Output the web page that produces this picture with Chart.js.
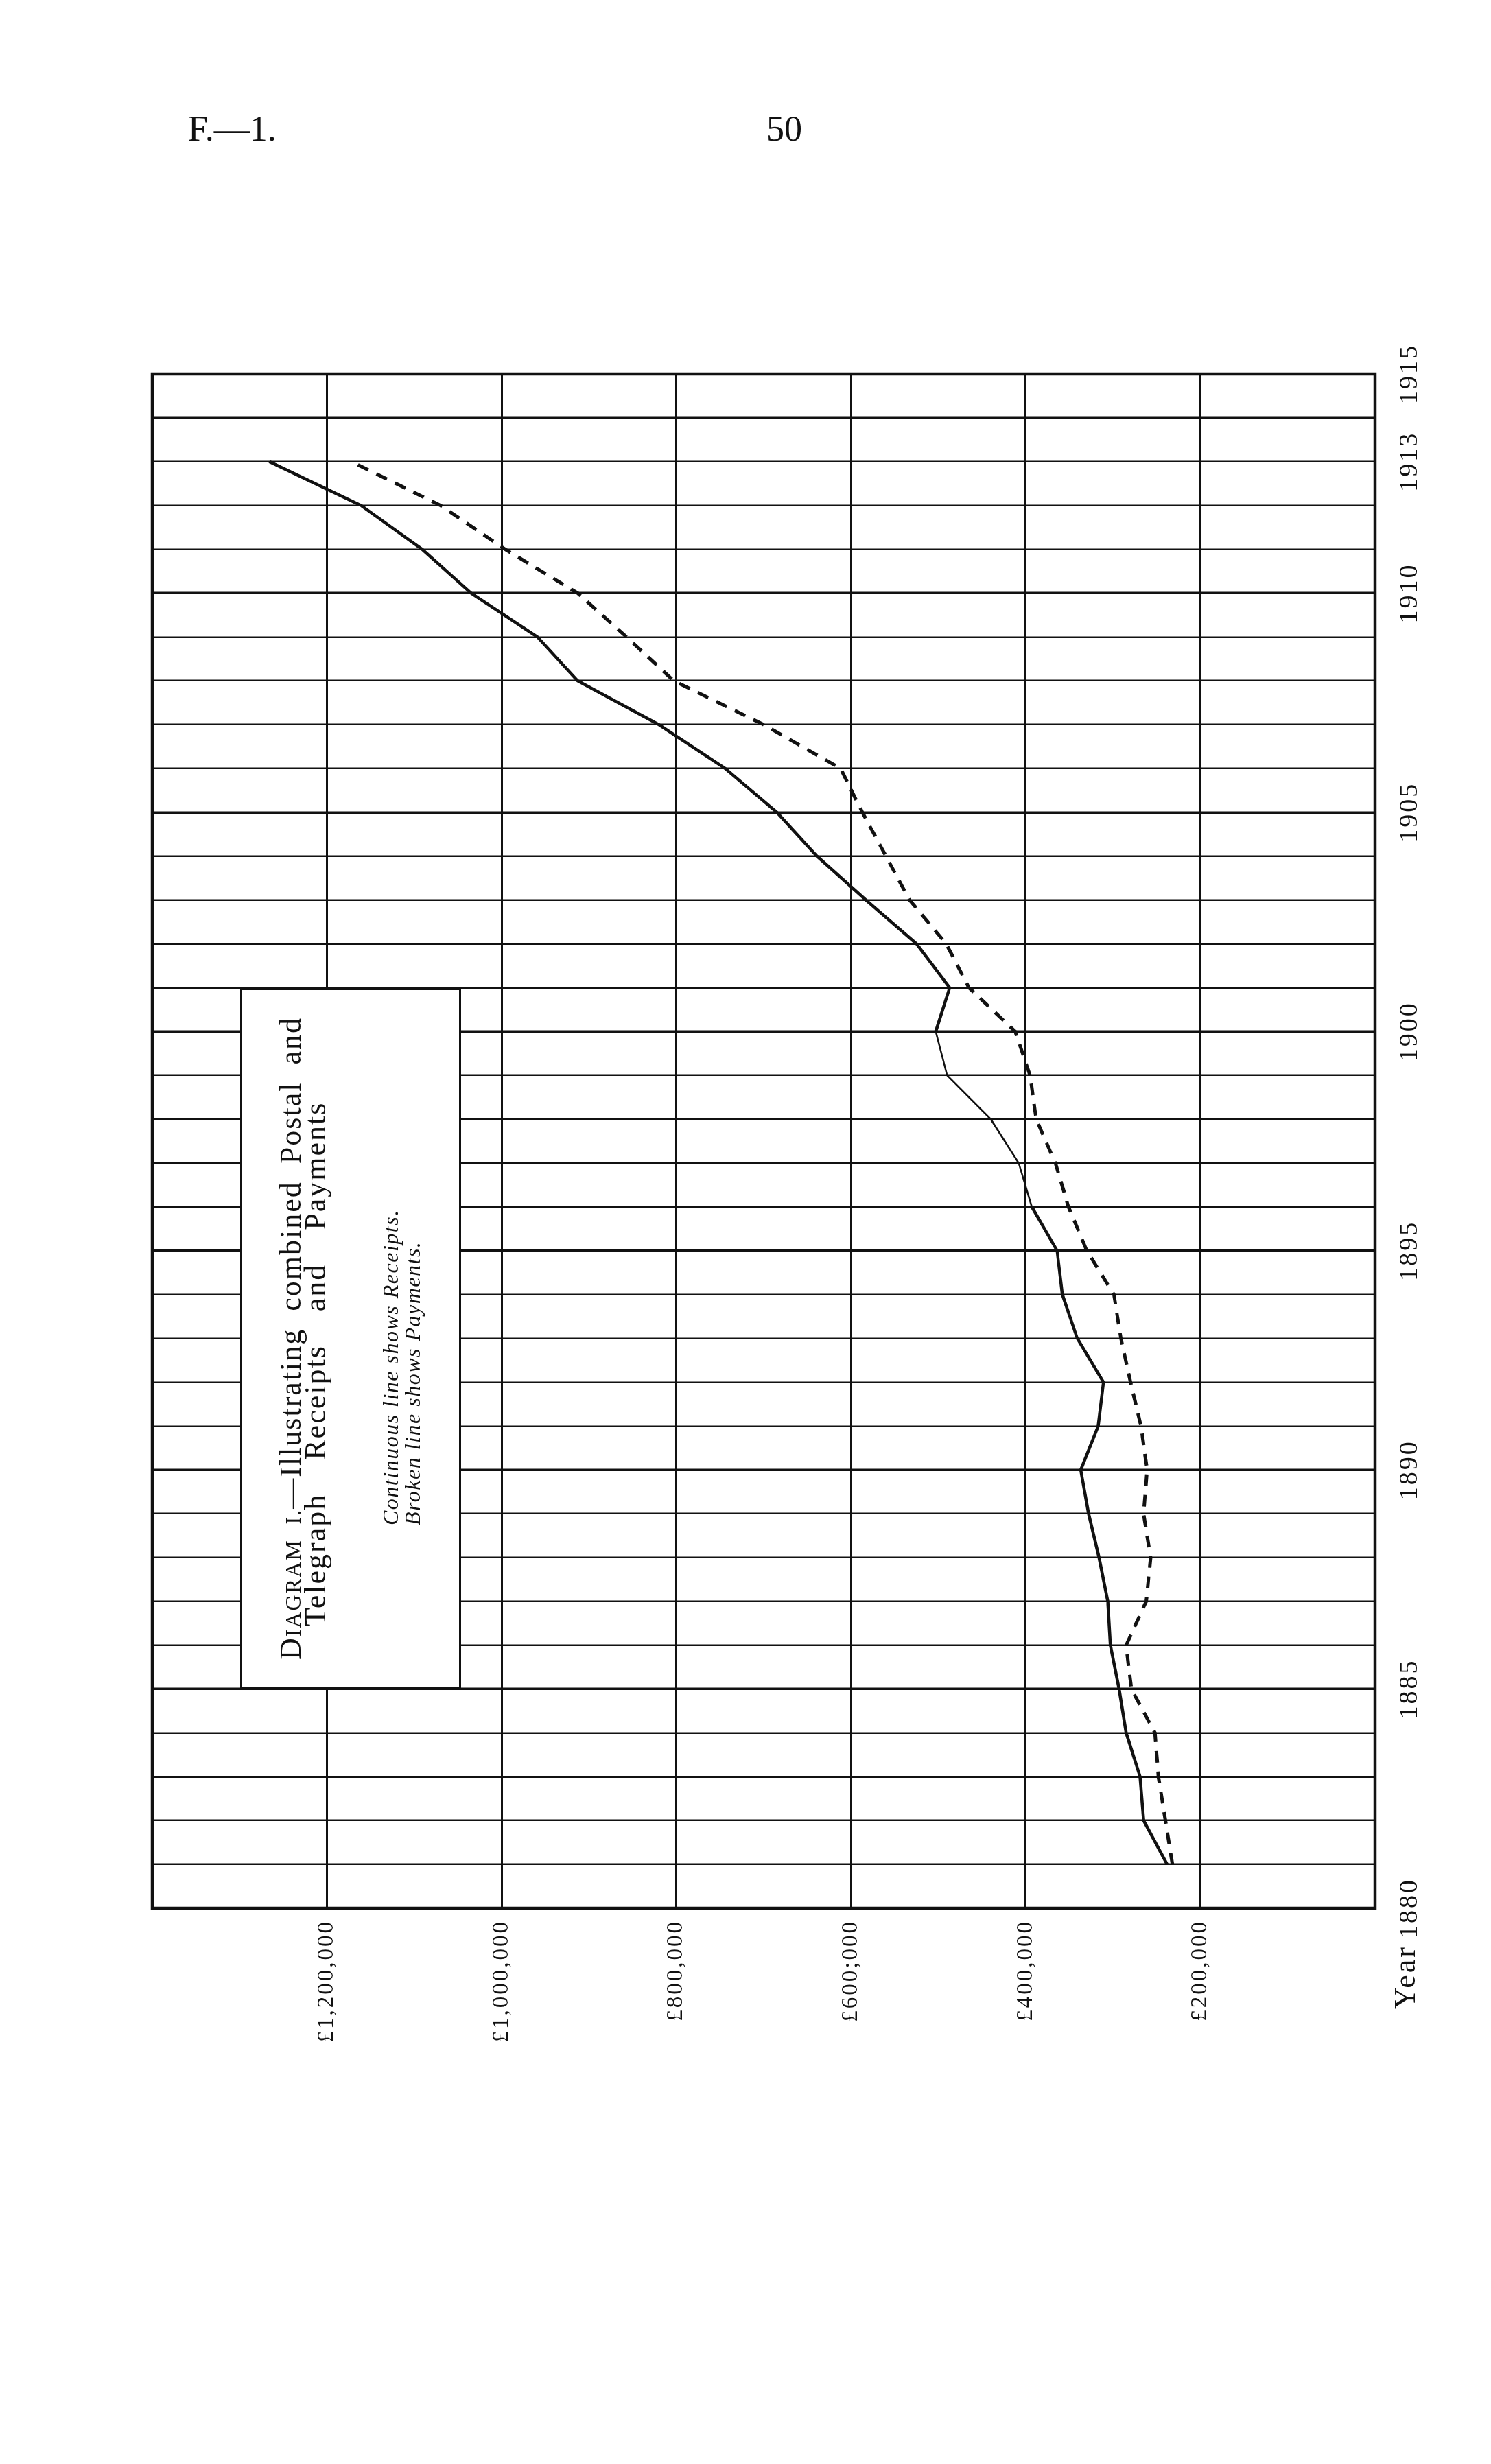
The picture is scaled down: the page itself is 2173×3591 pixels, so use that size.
<!DOCTYPE html>
<html>
<head>
<meta charset="utf-8">
<script src="https://cdn.jsdelivr.net/npm/chart.js@4.4.0/dist/chart.umd.min.js"></script>
<style>
html, body { margin: 0; padding: 0; background: #fff; }
#page { position: relative; width: 2173px; height: 3591px; background: #fff; overflow: hidden;
        font-family: "Liberation Serif", "DejaVu Serif", serif; color: #111; }
.hdr { position: absolute; top: 162px; font-size: 52px; line-height: 52px; }
/* chart drawn the normal way, then turned a quarter left like the printed page */
#rot { position: absolute; left: 200px; top: 3050px; width: 2550px; height: 1920px;
       transform-origin: 0 0; transform: rotate(-90deg); }
#rot canvas { position: absolute; left: 0; top: 0; }
#box { position: absolute; left: 589px; top: 150px; width: 1021px; height: 322px;
       box-sizing: border-box; border: 3px solid #111; background: #fff; }
#box div { position: absolute; white-space: nowrap; }
.t1, .t2 { font-size: 44px; line-height: 44px; letter-spacing: 2px; }
.t1 { left: 0; right: 0; text-align: center; top: 49px; word-spacing: 12px; }
.t2 { left: 88px; top: 85px; word-spacing: 36px; }
.sm { font-size: 32px; }
.it { left: 235px; font-style: italic; font-size: 32px; line-height: 32px; letter-spacing: 1.5px; }
.i1 { top: 200px; }
.i2 { top: 232px; }
</style>
</head>
<body>
<div id="page">
  <div class="hdr" style="left:274px">F.—1.</div>
  <div class="hdr" style="left:1117px">50</div>
  <div id="rot">
    <canvas id="chart" width="2550" height="1920"></canvas>
    <div id="box">
      <div class="t1">D<span class="sm">IAGRAM I.</span>—Illustrating combined Postal and</div>
      <div class="t2">Telegraph Receipts and Payments</div>
      <div class="it i1">Continuous line shows Receipts.</div>
      <div class="it i2">Broken line shows Payments.</div>
    </div>
  </div>
</div>
<script>
const years = [1881, 1882, 1883, 1884, 1885, 1886, 1887, 1888, 1889, 1890,
               1891, 1892, 1893, 1894, 1895, 1896, 1897, 1898, 1899, 1900,
               1901, 1902, 1903, 1904, 1905, 1906, 1907, 1908, 1909, 1910,
               1911, 1912, 1913];
const receipts = [238000, 265000, 269000, 285000, 293000, 303000, 306000, 316000, 328000, 337000,
                  317000, 311000, 341000, 358000, 364000, 393000, 408000, 440000, 490000, 503000,
                  487000, 525000, 583000, 639000, 685000, 744000, 820000, 913000, 959000, 1035000,
                  1091000, 1161000, 1266000];
const payments = [232000, 240000, 248000, 252000, 279000, 285000, 262000, 257000, 265000, 261000,
                  268000, 280000, 291000, 299000, 330000, 351000, 366000, 388000, 395000, 412000,
                  465000, 491000, 533000, 560000, 587000, 612000, 700000, 803000, 857000, 913000,
                  996000, 1070000, 1172000];
const yearTicks = [1880, 1885, 1890, 1895, 1900, 1905, 1910, 1913, 1915];
const moneyTicks = [200000, 400000, 600000, 800000, 1000000, 1200000];
const moneyLabels = ['£200,000', '£400,000', '£600;000', '£800,000', '£1,000,000', '£1,200,000'];

const INK = '#111';
const FONT = '"Liberation Serif", "DejaVu Serif", serif';
const pad = { top: 22, right: 45, left: 0, bottom: 0 };
const want = { top: 22, right: 2505 };

// Cadre + mot "Year" devant 1880
const framePlugin = {
    id: 'frame',
    beforeDraw(chart) { chart.ctx.letterSpacing = '3px'; },
    afterDraw(chart) {
        const ctx = chart.ctx, a = chart.chartArea, x = chart.scales.x;
        ctx.save();
        ctx.strokeStyle = INK; ctx.lineWidth = 4.5;
        ctx.strokeRect(a.left, a.top, a.right - a.left, a.bottom - a.top);
        ctx.fillStyle = INK;
        ctx.font = '38px ' + FONT;
        ctx.letterSpacing = '3px';
        const w = ctx.measureText('1880').width;
        ctx.font = '44px ' + FONT;
        ctx.textAlign = 'right'; ctx.textBaseline = 'top';
        ctx.fillText('Year', x.getPixelForValue(1880) - w / 2 - 10, a.bottom + 24);
        ctx.restore();
    }
};

const chart = new Chart(document.getElementById('chart'), {
    type: 'line',
    data: {
        datasets: [
            { label: 'Receipts', data: years.map((y, i) => ({ x: y, y: receipts[i] })),
              borderColor: INK, borderWidth: 4.5, pointRadius: 0, tension: 0,
              segment: { borderWidth: c => (c.p0.parsed.x >= 1896 && c.p1.parsed.x <= 1900) ? 2.6 : 4.5 } },
            { label: 'Payments', data: years.map((y, i) => ({ x: y, y: payments[i] })),
              borderColor: INK, borderWidth: 5, borderDash: [17, 13], pointRadius: 0, tension: 0 }
        ]
    },
    options: {
        responsive: false, animation: false, devicePixelRatio: 1,
        layout: { padding: pad },
        plugins: { legend: { display: false }, tooltip: { enabled: false } },
        scales: {
            x: {
                type: 'linear', min: 1880, max: 1915,
                afterFit: s => { s.height = 116; s.paddingLeft = 0; s.paddingRight = 0; },
                border: { display: false },
                grid: { color: INK, drawTicks: false,
                        lineWidth: c => (c.tick && c.tick.value % 5 === 0) ? 3.5 : 2.5 },
                ticks: { stepSize: 1, autoSkip: false, maxRotation: 0, padding: 28,
                         color: INK, font: { family: FONT, size: 38 },
                         callback: v => yearTicks.includes(v) ? String(v) : '' }
            },
            y: {
                type: 'linear', min: 0, max: 1400000,
                afterFit: s => { s.width = 269; s.paddingTop = 0; s.paddingBottom = 0; },
                border: { display: false },
                grid: { color: INK, lineWidth: 3, drawTicks: false },
                ticks: { stepSize: 200000, autoSkip: false, padding: 17,
                         color: INK, font: { family: FONT, size: 33 },
                         callback: v => { const i = moneyTicks.indexOf(v); return i >= 0 ? moneyLabels[i] : ''; } }
            }
        }
    },
    plugins: [framePlugin]
});

// recaler la zone du graphe si Chart.js a ajouté sa propre marge
const a = chart.chartArea;
if (Math.abs(a.top - want.top) > 0.5 || Math.abs(a.right - want.right) > 0.5) {
    pad.top -= a.top - want.top;
    pad.right += a.right - want.right;
    chart.update();
}
</script>
</body>
</html>
